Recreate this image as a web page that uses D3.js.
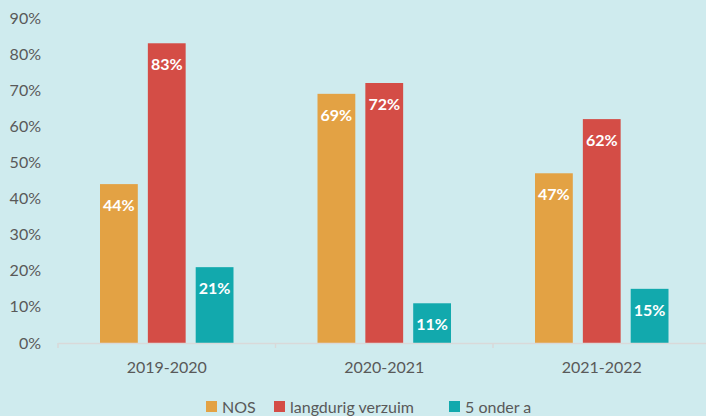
<!doctype html>
<html lang="nl">
<head>
<meta charset="utf-8">
<script src="https://cdnjs.cloudflare.com/ajax/libs/d3/7.8.5/d3.min.js"></script>
<style>
  html, body { margin: 0; padding: 0; background: #cfebee; }
  svg { display: block; font-family: Lato, 'Open Sans', sans-serif; }
  .tick-label { fill: #595959; font-size: 16px; }
  .bar-label { fill: #ffffff; font-size: 16px; font-weight: bold; }
</style>
</head>
<body>
<script>
// chart data
const years = ["2019-2020", "2020-2021", "2021-2022"];
const seriesNames = ["NOS", "langdurig verzuim", "5 onder a"];
const nosValues = [44, 69, 47];
const verzuimValues = [83, 72, 62];
const onderValues = [21, 11, 15];
const yTicks = [0, 10, 20, 30, 40, 50, 60, 70, 80, 90];
const colors = ["#e3a244", "#d44d46", "#12a9ad"];

const w = 706, h = 416;
const plotLeft = 58, plotRight = 710.5, plotTop = 18, plotBottom = 343;

const svg = d3.select("body").append("svg")
  .attr("width", w)
  .attr("height", h);

const y = d3.scaleLinear().domain([0, 90]).range([plotBottom, plotTop]);
const x0 = d3.scaleBand().domain(years).range([plotLeft, plotRight]).paddingInner(0).paddingOuter(0);
const x1 = d3.scaleBand().domain(seriesNames).range([42, x0.bandwidth() - 42]).paddingInner(0.21).paddingOuter(0);

// y tick labels
svg.selectAll(".ylab")
  .data(yTicks)
  .enter().append("text")
  .attr("class", "tick-label")
  .attr("x", 41)
  .attr("y", d => y(d))
  .attr("dy", "0.35em")
  .attr("text-anchor", "end")
  .text(d => d + "%");

// bars
const table = years.map((yr, i) => ({
  year: yr,
  values: [nosValues[i], verzuimValues[i], onderValues[i]]
}));

const groups = svg.selectAll(".grp")
  .data(table)
  .enter().append("g")
  .attr("transform", d => "translate(" + x0(d.year) + ",0)");

groups.selectAll("rect")
  .data(d => d.values.map((v, j) => ({ name: seriesNames[j], v: v, j: j })))
  .enter().append("rect")
  .attr("x", d => x1(d.name))
  .attr("y", d => y(d.v))
  .attr("width", x1.bandwidth())
  .attr("height", d => plotBottom - y(d.v))
  .attr("fill", d => colors[d.j]);

groups.selectAll(".bar-label")
  .data(d => d.values.map((v, j) => ({ name: seriesNames[j], v: v, j: j })))
  .enter().append("text")
  .attr("class", "bar-label")
  .attr("x", d => x1(d.name) + x1.bandwidth() / 2)
  .attr("y", d => y(d.v) + 27)
  .attr("text-anchor", "middle")
  .text(d => d.v + "%");

// x axis
const xAxis = d3.axisBottom(x0).tickSize(0).tickSizeOuter(0).tickFormat("");
const gx = svg.append("g")
  .attr("transform", "translate(0," + plotBottom + ")")
  .call(xAxis);
gx.select(".domain").attr("stroke", "#d9d9d9").attr("stroke-width", 1.5);

// boundary ticks between categories
const bounds = [plotLeft].concat(years.map(d => x0(d) + x0.bandwidth()));
svg.selectAll(".btick")
  .data(bounds)
  .enter().append("line")
  .attr("x1", d => d).attr("x2", d => d)
  .attr("y1", plotBottom).attr("y2", plotBottom + 5)
  .attr("stroke", "#d9d9d9")
  .attr("stroke-width", 1.5);

svg.selectAll(".xlab")
  .data(years)
  .enter().append("text")
  .attr("class", "tick-label")
  .attr("x", d => x0(d) + x0.bandwidth() / 2)
  .attr("y", 373)
  .attr("text-anchor", "middle")
  .text(d => d);

// legend
const legendX = [206, 274, 449];
const legend = svg.selectAll(".leg")
  .data(seriesNames)
  .enter().append("g")
  .attr("transform", (d, i) => "translate(" + legendX[i] + ",401)");
legend.append("rect")
  .attr("width", 11).attr("height", 11)
  .attr("fill", (d, i) => colors[i]);
legend.append("text")
  .attr("class", "tick-label")
  .attr("x", 16)
  .attr("y", 11.5)
  .text(d => d);
</script>
</body>
</html>
